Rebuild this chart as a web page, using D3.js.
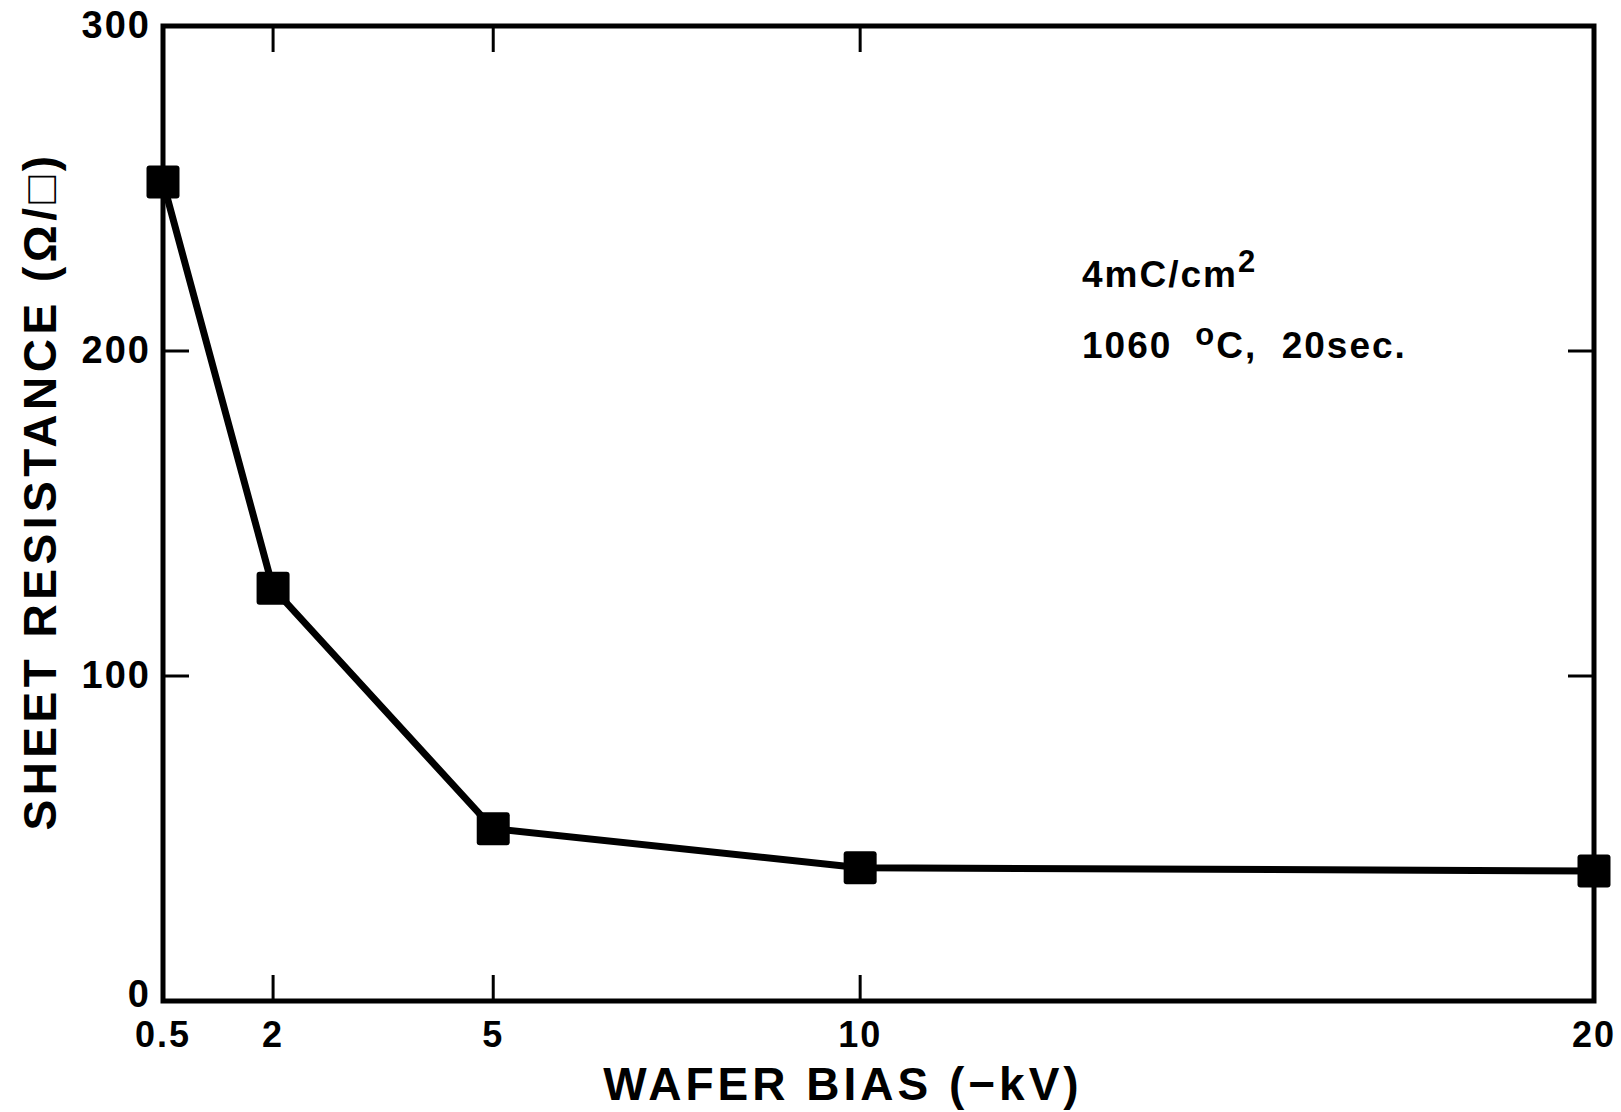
<!DOCTYPE html>
<html>
<head>
<meta charset="utf-8">
<script src="https://cdn.jsdelivr.net/npm/d3@7"></script>
<style>
  body { margin: 0; background: #fff; }
  text { font-family: "Liberation Sans", Arial, sans-serif; font-weight: bold; fill: #000; }
</style>
</head>
<body>
<div id="chart"></div>
<script>
// data
const bias = [0.5, 2, 5, 10, 20];          // wafer bias (-kV)
const sheetRes = [252, 127, 53, 41, 40];   // sheet resistance (ohm/sq)
const xTicks = [0.5, 2, 5, 10, 20];
const xInnerTicks = [2, 5, 10];
const yTicks = [0, 100, 200, 300];
const yInnerTicks = [100, 200];

const w = 1621;
const h = 1112;

let svg = d3.select("#chart")
  .append("svg")
  .attr("width", w)
  .attr("height", h);

const x = d3.scaleLinear()
  .domain([0.5, 20])
  .range([163, 1594]);

const y = d3.scaleLinear()
  .domain([0, 300])
  .range([1001, 26]);

// frame
svg.append("rect")
  .attr("x", x(0.5))
  .attr("y", y(300))
  .attr("width", x(20) - x(0.5))
  .attr("height", y(0) - y(300))
  .attr("fill", "none")
  .attr("stroke", "#000")
  .attr("stroke-width", 5);

// inner ticks, top + bottom
const tickLen = 26;
svg.append("g")
  .selectAll("line")
  .data(xInnerTicks)
  .enter()
  .append("line")
  .attr("x1", d => x(d))
  .attr("x2", d => x(d))
  .attr("y1", y(0))
  .attr("y2", y(0) - tickLen)
  .attr("stroke", "#000")
  .attr("stroke-width", 3);

svg.append("g")
  .selectAll("line")
  .data(xInnerTicks)
  .enter()
  .append("line")
  .attr("x1", d => x(d))
  .attr("x2", d => x(d))
  .attr("y1", y(300))
  .attr("y2", y(300) + tickLen)
  .attr("stroke", "#000")
  .attr("stroke-width", 3);

// inner ticks, left + right
svg.append("g")
  .selectAll("line")
  .data(yInnerTicks)
  .enter()
  .append("line")
  .attr("x1", x(0.5))
  .attr("x2", x(0.5) + tickLen)
  .attr("y1", d => y(d))
  .attr("y2", d => y(d))
  .attr("stroke", "#000")
  .attr("stroke-width", 3);

svg.append("g")
  .selectAll("line")
  .data(yInnerTicks)
  .enter()
  .append("line")
  .attr("x1", x(20))
  .attr("x2", x(20) - tickLen)
  .attr("y1", d => y(d))
  .attr("y2", d => y(d))
  .attr("stroke", "#000")
  .attr("stroke-width", 3);

// tick labels ("0" sits a touch higher so it clears "0.5")
svg.append("g")
  .selectAll("text")
  .data(yTicks)
  .enter()
  .append("text")
  .attr("x", x(0.5) - 12)
  .attr("y", d => y(d) + (d === 0 ? 6 : 12))
  .attr("text-anchor", "end")
  .attr("font-size", 38)
  .attr("letter-spacing", 2)
  .text(d => d);

svg.append("g")
  .selectAll("text")
  .data(xTicks)
  .enter()
  .append("text")
  .attr("x", d => x(d))
  .attr("y", y(0) + 46)
  .attr("text-anchor", "middle")
  .attr("font-size", 36)
  .attr("letter-spacing", 2)
  .text(d => d);

// axis titles
svg.append("text")
  .attr("x", 843)
  .attr("y", 1100)
  .attr("text-anchor", "middle")
  .attr("font-size", 46)
  .attr("letter-spacing", 4)
  .text("WAFER BIAS (\u2212kV)");

svg.append("text")
  .attr("transform", "translate(56, 491) rotate(-90)")
  .attr("text-anchor", "middle")
  .attr("font-size", 46)
  .attr("letter-spacing", 4.5)
  .text("SHEET RESISTANCE (\u03A9/\u25A1)");

// the data line
const line = d3.line()
  .x((d, i) => x(bias[i]))
  .y(d => y(d));

svg.append("path")
  .datum(sheetRes)
  .attr("d", line)
  .attr("fill", "none")
  .attr("stroke", "#000")
  .attr("stroke-width", 7)
  .attr("stroke-linejoin", "round");

// square markers
const size = 33;
svg.append("g")
  .selectAll("rect")
  .data(sheetRes)
  .enter()
  .append("rect")
  .attr("x", (d, i) => x(bias[i]) - size / 2)
  .attr("y", d => y(d) - size / 2)
  .attr("width", size)
  .attr("height", size)
  .attr("rx", 3)
  .attr("fill", "#000");

// annotation
let note = svg.append("g")
  .attr("font-size", 37)
  .attr("letter-spacing", 2);

let l1 = note.append("text")
  .attr("x", 1082)
  .attr("y", 287);
l1.append("tspan").text("4mC/cm");
l1.append("tspan").attr("dy", -15).attr("font-size", 31).text("2");

let l2 = note.append("text")
  .attr("x", 1082)
  .attr("y", 358);
l2.append("tspan").text("1060 ");
l2.append("tspan").attr("dy", -13).attr("font-size", 31).text("\u00A0o");
l2.append("tspan").attr("dy", 13).text("C,\u00A0 20sec.");
</script>
</body>
</html>
